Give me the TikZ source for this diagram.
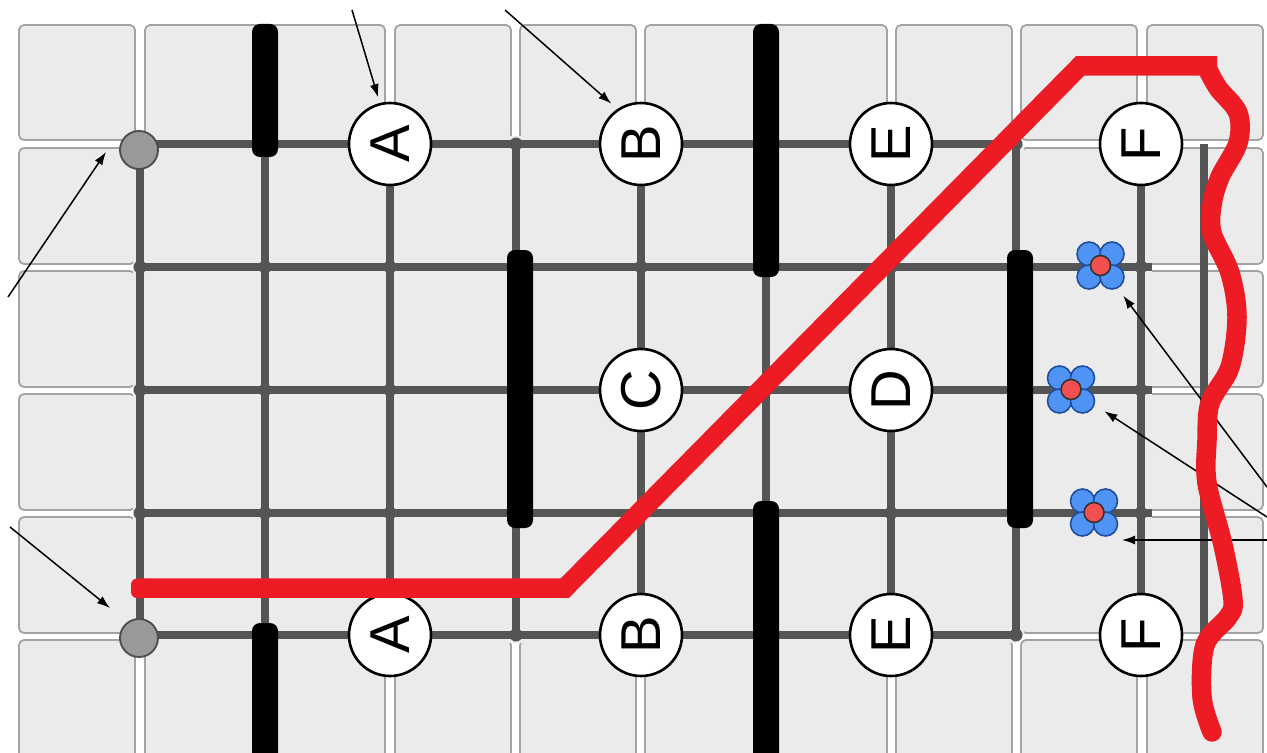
\documentclass[tikz,border=0pt]{standalone}
\usepackage{fontspec}
\setmainfont{Liberation Sans}
\usepackage{xcolor}
\usetikzlibrary{arrows.meta}
\definecolor{tilefill}{HTML}{EBEBEB}
\definecolor{tileedge}{HTML}{A3A3A3}
\definecolor{gridline}{HTML}{555555}
\definecolor{routered}{HTML}{ED1C24}
\definecolor{petalblue}{HTML}{4F94F5}
\definecolor{petaledge}{HTML}{1F4E9E}
\definecolor{coredot}{HTML}{F25050}
\def\px{0.02cm}

\begin{document}
\begin{tikzpicture}[
    x=0.02cm, y=-0.02cm,
    tile/.style={draw=tileedge, fill=tilefill, line width=1.8*\px, rounded corners=5*\px},
    halo/.style={draw=tilefill, line width=15*\px},
    wire/.style={draw=gridline, line width=7.5*\px},
    joint/.style={fill=gridline},
    wall/.style={fill=black, rounded corners=8*\px},
    pin/.style={draw=black, fill=white, circle, line width=2.6*\px, minimum size=82*\px, inner sep=0pt, rotate=90, font=\fontsize{32}{32}\selectfont},
    anchorpt/.style={draw=black!70, fill=black!40, circle, line width=1.8*\px, minimum size=38*\px, inner sep=0pt},
    petal/.style={draw=petaledge, fill=petalblue, line width=1.6*\px},
    core/.style={draw=black!80, fill=coredot, circle, line width=1.6*\px, minimum size=20*\px, inner sep=0pt},
    callout/.style={-{Latex[length=13*\px, width=9*\px]}, line width=1.5*\px, black},
    route/.style={draw=routered, line width=19.5*\px}
]
\useasboundingbox (0,0) rectangle (1267,753);
\clip (0,0) rectangle (1267,753);

% floor tiles
\foreach \xa/\xb in {19/135,145/385,395/511,520/636,645/887,896/1012,1021/1137,1147/1263} {
    \draw[tile] (\xa,25) rectangle (\xb,140);
    \draw[tile] (\xa,640) rectangle (\xb,790);
}
\foreach \xa/\xb in {19/135,145/260,270/385,395/511,520/636,645/761,771/887,896/1012,1021/1137,1147/1263} {
    \foreach \ya/\yb in {148/264,271/387,394/510,517/633} {
        \draw[tile] (\xa,\ya) rectangle (\xb,\yb);
    }
}

% grid
\foreach \x in {140,265,390,516,641,766,891,1016,1141} {
    \draw[halo] (\x,144) -- (\x,635);
}
\draw[halo] (140,144) -- (1016,144);
\draw[halo] (140,635) -- (1016,635);
\foreach \y in {267,390,513} {
    \draw[halo] (140,\y) -- (1152,\y);
}
\foreach \x in {140,265,390,516,641,766,891,1016,1141,1204} {
    \draw[wire] (\x,144) -- (\x,635);
}
\draw[wire] (140,144) -- (1016,144);
\draw[wire] (140,635) -- (1016,635);
\foreach \y in {267,390,513} {
    \draw[wire] (140,\y) -- (1152,\y);
}
\foreach \x in {265,390,516,641,766,891,1016} {
    \fill[joint] (\x,144) circle (6.5);
    \fill[joint] (\x,635) circle (6.5);
}
\foreach \x in {140,265,390,516,641,766,891,1016,1141} {
    \foreach \y in {267,390,513} {
        \fill[joint] (\x,\y) circle (6.5);
    }
}

% walls
\fill[wall] (252,24) rectangle (278,157);
\fill[wall] (753,24) rectangle (779,277);
\fill[wall] (507,250) rectangle (533,528);
\fill[wall] (1007,250) rectangle (1033,528);
\fill[wall] (753,501) rectangle (779,790);
\fill[wall] (252,623) rectangle (278,790);

% flowers
\foreach \n/\x/\y in {1/1100.5/265.5,2/1071/389.5,3/1094/512.5} {
    \foreach \dx/\dy in {-11.5/-11.5,11.5/-11.5,-11.5/11.5,11.5/11.5} {
        \draw[petal] (\x+\dx,\y+\dy) circle (12);
    }
    \node[core] (bloom\n) at (\x,\y) {};
}

% pins
\node[pin] (a1) at (390,144) {A};
\node[pin] (b1) at (641,144) {B};
\node[pin] (e1) at (891,144) {E};
\node[pin] (f1) at (1141,144) {F};
\node[pin] (c) at (641,390) {C};
\node[pin] (d) at (891,390) {D};
\node[pin] (a2) at (390,635) {A};
\node[pin] (b2) at (641,635) {B};
\node[pin] (e2) at (891,635) {E};
\node[pin] (f2) at (1141,635) {F};
\node[anchorpt] (g1) at (139,150) {};
\node[anchorpt] (g2) at (139,638) {};

% callouts
\coordinate (sa) at (352,10);
\coordinate (sb) at (505,10);
\coordinate (sg1) at (8,297);
\coordinate (sg2) at (10,527);
\coordinate (sf1) at (1267,487);
\coordinate (sf2) at (1267,517);
\coordinate (sf3) at (1267,540);
\coordinate (tg1) at (106,152);
\coordinate (tg2) at (110,608);
\coordinate (tf3) at (1122,540);
\draw[callout, shorten >=6*\px] (sa) -- (a1.14);
\draw[callout, shorten >=8*\px] (sb) -- (b1.34);
\draw[callout] (sg1) -- (tg1);
\draw[callout] (sg2) -- (tg2);
\draw[callout, shorten >=27*\px] (sf1) -- (bloom1);
\draw[callout, shorten >=29*\px] (sf2) -- (bloom2);
\draw[callout] (sf3) -- (tf3);

% red route
\fill[routered, rounded corners=6*\px] (131,578.5) rectangle (150,598);
\draw[route, line join=miter] (140,588) -- (565,588) -- (1080,66) -- (1217,66);
\draw[route, line cap=round, line join=round] plot[smooth, tension=0.55] coordinates {(1207,68) (1218,88) (1238,113) (1238,143) (1220,177) (1212,205) (1212,233) (1230,273) (1237,317) (1230,367) (1210,403) (1207,440) (1207,483) (1223,545) (1233,600) (1228,617) (1205,645) (1202,697) (1212,732)};
\end{tikzpicture}
\end{document}
